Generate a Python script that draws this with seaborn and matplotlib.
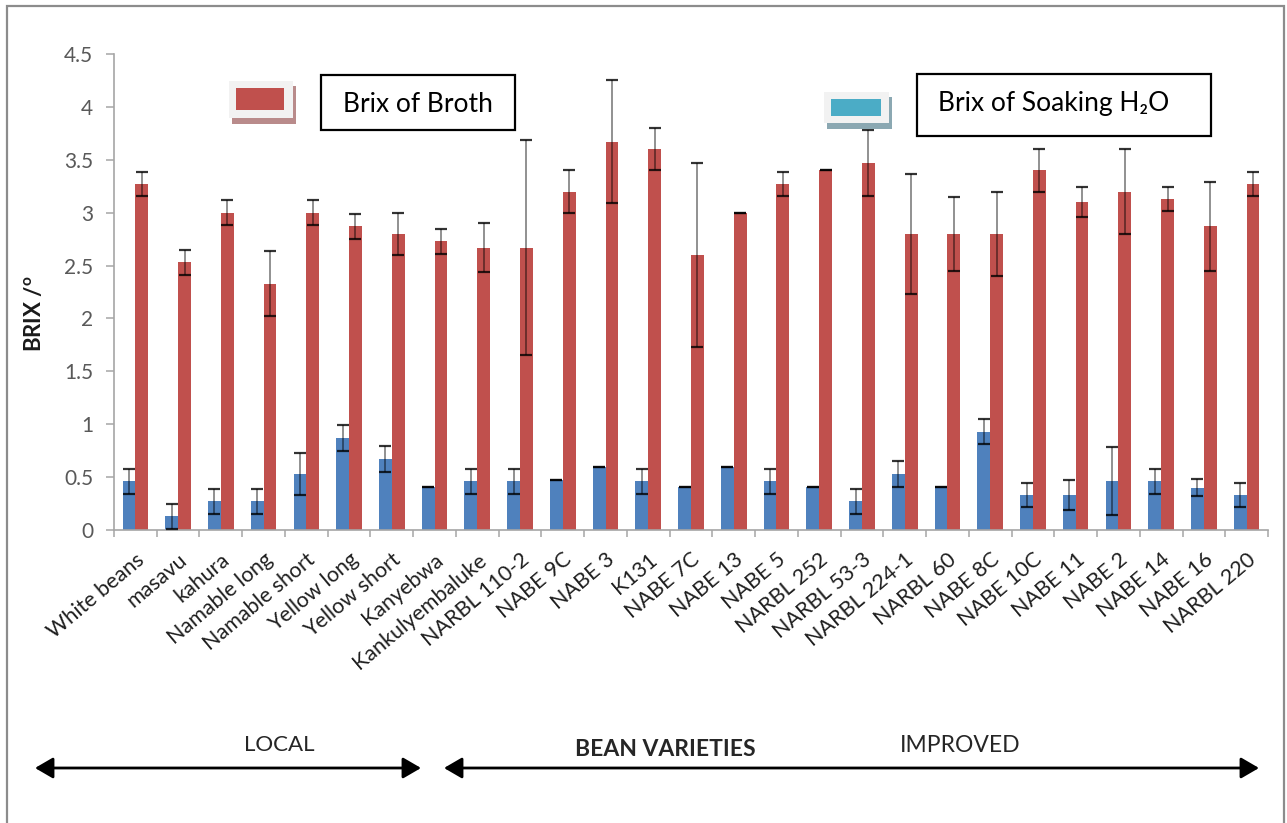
import matplotlib
matplotlib.use("Agg")
import matplotlib.pyplot as plt
import numpy as np
import pandas as pd
import seaborn as sns
from matplotlib.patches import Rectangle, FancyArrowPatch

# Bean varieties (local first, then improved)
varieties = [
    "White beans", "masavu", "kahura", "Namable long", "Namable short",
    "Yellow long", "Yellow short", "Kanyebwa", "Kankulyembaluke",
    "NARBL 110-2", "NABE 9C", "NABE 3", "K131", "NABE 7C", "NABE 13",
    "NABE 5", "NARBL 252", "NARBL 53-3", "NARBL 224-1", "NARBL 60",
    "NABE 8C", "NABE 10C", "NABE 11", "NABE 2", "NABE 14", "NABE 16",
    "NARBL 220",
]

# Brix of broth (mean and error)
broth = [3.27, 2.53, 3.00, 2.33, 3.00, 2.87, 2.80, 2.73, 2.67, 2.67, 3.20,
         3.67, 3.60, 2.60, 3.00, 3.27, 3.40, 3.47, 2.80, 2.80, 2.80, 3.40,
         3.10, 3.20, 3.13, 2.87, 3.27]
broth_err = [0.11, 0.12, 0.12, 0.31, 0.12, 0.12, 0.20, 0.12, 0.23, 1.02, 0.20,
             0.58, 0.20, 0.87, 0.00, 0.11, 0.00, 0.31, 0.57, 0.35, 0.40, 0.20,
             0.14, 0.40, 0.11, 0.42, 0.11]

# Brix of soaking water (mean and error)
soak = [0.46, 0.13, 0.27, 0.27, 0.53, 0.87, 0.67, 0.41, 0.46, 0.46, 0.47,
        0.60, 0.46, 0.41, 0.60, 0.46, 0.41, 0.27, 0.53, 0.41, 0.93, 0.33,
        0.33, 0.46, 0.46, 0.40, 0.33]
soak_err = [0.12, 0.12, 0.12, 0.12, 0.20, 0.12, 0.12, 0.00, 0.12, 0.12, 0.00,
            0.00, 0.12, 0.00, 0.00, 0.12, 0.00, 0.12, 0.12, 0.00, 0.12, 0.11,
            0.14, 0.32, 0.12, 0.08, 0.11]

series_names = ["Brix of Soaking H\u2082O", "Brix of Broth"]
series_colors = ["#4F81BD", "#C0504D"]
legend_colors = ["#4BACC6", "#C0504D"]
group_labels = ["LOCAL", "BEAN VARIETIES", "IMPROVED"]
yticks = [0, 0.5, 1, 1.5, 2, 2.5, 3, 3.5, 4, 4.5]

W, H = 1287, 823
sns.set_theme(style="white")
plt.rcParams["font.family"] = ["Lato", "DejaVu Sans"]
plt.rcParams["mathtext.fontset"] = "custom"
plt.rcParams["mathtext.rm"] = "Lato"
plt.rcParams["mathtext.bf"] = "Lato:bold"

fig = plt.figure(figsize=(W / 100, H / 100), dpi=100)
fig.patch.set_facecolor("white")


def fx(px):
    return px / W


def fy(py):
    return 1 - py / H


ax = fig.add_axes([fx(114), fy(530), (1268 - 114) / W, (530 - 54) / H])

df = pd.DataFrame({
    "Variety": varieties * 2,
    "Brix": soak + broth,
    "Series": [series_names[0]] * len(varieties) + [series_names[1]] * len(varieties),
})

sns.barplot(data=df, x="Variety", y="Brix", hue="Series", hue_order=series_names,
            palette=dict(zip(series_names, series_colors)), width=0.6,
            errorbar=None, legend=False, saturation=1, linewidth=0, ax=ax)

# error bars on top of each bar
for container, errs in zip(ax.containers, [soak_err, broth_err]):
    xs = [p.get_x() + p.get_width() / 2 for p in container]
    ys = [p.get_height() for p in container]
    _, caps, stems = ax.errorbar(xs, ys, yerr=errs, fmt="none", ecolor="black",
                                 elinewidth=1.1, capsize=4, capthick=1.6, zorder=5)
    for s in stems:
        s.set_alpha(0.55)
    for c in caps:
        c.set_alpha(0.8)

ax.set_ylim(0, 4.5)
ax.set_xlim(-0.5, len(varieties) - 0.5)
ax.set_yticks(yticks)
ax.set_yticklabels([f"{v:g}" for v in yticks])
ax.set_xlabel("")
ax.set_ylabel("")

axis_gray = "#a6a6a6"
for side in ["top", "right"]:
    ax.spines[side].set_visible(False)
for side in ["left", "bottom"]:
    ax.spines[side].set_color(axis_gray)
    ax.spines[side].set_linewidth(1.2)

ax.tick_params(axis="y", direction="out", length=6, width=1.1, color=axis_gray,
               labelsize=15, labelcolor="#595959", pad=9, left=True)
ax.set_xticks(np.arange(len(varieties)))
ax.set_xticks(np.arange(-0.5, len(varieties), 1), minor=True)
ax.tick_params(axis="x", which="major", length=0, pad=14)
ax.tick_params(axis="x", which="minor", direction="out", length=5, width=1.1,
               color=axis_gray, bottom=True)
for lab in ax.get_xticklabels():
    lab.set_rotation(40)
    lab.set_ha("right")
    lab.set_rotation_mode("anchor")
    lab.set_fontsize(15.5)
    lab.set_color("#1f1f1f")

fig.text(fx(34), fy(314), r"BRIX /$^{\mathbf{o}}$", rotation=90, ha="center",
         va="center", fontsize=16, fontweight="bold", color="#1a1a1a")

# legend swatches with drop shadow and boxed labels
def px_rect(x0, y0, x1, y1, **kw):
    r = Rectangle((fx(x0), fy(y1)), (x1 - x0) / W, (y1 - y0) / H,
                  transform=fig.transFigure, **kw)
    fig.add_artist(r)
    return r


px_rect(232, 86, 296, 124, facecolor="#b98b8b", edgecolor="none")
px_rect(229, 81, 293, 118, facecolor="#f2f2f2", edgecolor="none")
px_rect(236, 88, 284, 110, facecolor=legend_colors[1], edgecolor="none")
px_rect(321, 75, 515, 130, facecolor="white", edgecolor="black", linewidth=1.6)
fig.text(fx(343), fy(104), series_names[1], fontsize=19, ha="left", va="center",
         color="black")

px_rect(827, 97, 892, 129, facecolor="#8ba8b2", edgecolor="none")
px_rect(824, 92, 889, 123, facecolor="#f2f2f2", edgecolor="none")
px_rect(831, 99, 881, 116, facecolor=legend_colors[0], edgecolor="none")
px_rect(917, 74, 1211, 136, facecolor="white", edgecolor="black", linewidth=1.6)
fig.text(fx(938), fy(104), series_names[0], fontsize=19, ha="left", va="center",
         color="black")

# group annotations below the axis
fig.text(fx(279), fy(745), group_labels[0], fontsize=16, ha="center", va="center",
         color="#262626")
fig.text(fx(665), fy(750), group_labels[1], fontsize=16.5, fontweight="bold",
         ha="center", va="center", color="#262626")
fig.text(fx(960), fy(745), group_labels[2], fontsize=16.5, ha="center", va="center",
         color="#262626")

for x0, x1 in [(35, 421), (444, 1259)]:
    arr = FancyArrowPatch((fx(x0), fy(768)), (fx(x1), fy(768)),
                          transform=fig.transFigure,
                          arrowstyle="<|-|>,head_length=0.55,head_width=0.32",
                          mutation_scale=20, lw=2, color="black",
                          shrinkA=0, shrinkB=0)
    fig.add_artist(arr)

# outer chart frame
px_rect(7, 6, 1284, 840, fill=False, edgecolor="#8c8c8c", linewidth=1.6)

fig.savefig("out.png", dpi=100, facecolor="white")
